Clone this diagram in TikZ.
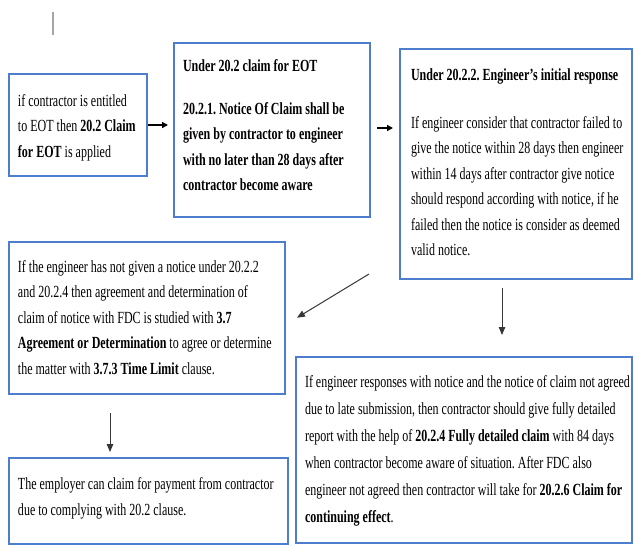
\documentclass[tikz,border=0pt]{standalone}
\usepackage{fontspec}
\setmainfont{Liberation Serif}[FakeStretch=0.706]
\usetikzlibrary{arrows.meta,calc}
\definecolor{boxblue}{RGB}{79,125,205}
\definecolor{arrgray}{RGB}{55,55,55}
\frenchspacing
\newcommand\boxline[1]{\mbox{#1}}
% #1 width, #2 height, #3 top pad, #4 left pad, #5 baselineskip, #6 lines
\newcommand\boxtext[6]{\begin{minipage}[c][#2][t]{#1}\fontsize{17pt}{#5}\selectfont\frenchspacing\parskip=0pt\raggedright\leftskip=#4\relax\vspace*{#3}\strut #6\end{minipage}}
\tikzset{
  box/.style={draw=boxblue, line width=1.8pt, inner sep=0pt, outer sep=0pt, rectangle, fill=white},
  blackarr/.style={line width=1.3pt, black, -{Triangle[length=6pt,width=6pt]}},
  grayarr/.style={line width=1pt, arrgray, -{Triangle[length=8pt,width=6.5pt]}},
}
\begin{document}
\begin{tikzpicture}[x=1pt,y=-1pt]
\fill[white] (0,0) rectangle (634,546);
\path[use as bounding box] (0,0) rectangle (634,546);

\draw[gray!70, line width=1.5pt] (53,12) -- (53,35);

\node[box] (A) at (78,125) {\boxtext{138pt}{102pt}{14.6pt}{9pt}{25.5pt}{%
\boxline{if contractor is entitled}\\
\boxline{to EOT then \textbf{20.2 Claim}}\\
\boxline{\textbf{for EOT} is applied}}};

\node[box] (B) at (272,130) {\boxtext{196pt}{174pt}{10.6pt}{9pt}{25.5pt}{%
\boxline{\textbf{Under 20.2 claim for EOT}}\\[17.5pt]
\boxline{\textbf{20.2.1. Notice Of Claim shall be}}\\
\boxline{\textbf{given by contractor to engineer}}\\
\boxline{\textbf{with no later than 28 days after}}\\
\boxline{\textbf{contractor become aware}}}};

\node[box] (C) at (516,164) {\boxtext{232pt}{230pt}{13.6pt}{11pt}{25.5pt}{%
\boxline{\textbf{Under 20.2.2. Engineer’s initial response}}\\[22.5pt]
\boxline{If engineer consider that contractor failed to}\\
\boxline{give the notice within 28 days then engineer}\\
\boxline{within 14 days after contractor give notice}\\
\boxline{should respond according with notice, if he}\\
\boxline{failed then the notice is consider as deemed}\\
\boxline{valid notice.}}};

\node[box] (D) at (147,318) {\boxtext{276pt}{152pt}{12.6pt}{9pt}{25.5pt}{%
\boxline{If the engineer has not given a notice under 20.2.2}\\
\boxline{and 20.2.4 then agreement and determination of}\\
\boxline{claim of notice with FDC is studied with \textbf{3.7}}\\
\boxline{\textbf{Agreement or Determination} to agree or determine}\\
\boxline{the matter with \textbf{3.7.3 Time Limit} clause.}}};

\node[box] (E) at (464,450) {\boxtext{336pt}{186pt}{11.6pt}{9pt}{27pt}{%
\boxline{If engineer responses with notice and the notice of claim not agreed}\\
\boxline{due to late submission, then contractor should give fully detailed}\\
\boxline{report with the help of \textbf{20.2.4 Fully detailed claim} with 84 days}\\
\boxline{when contractor become aware of situation. After FDC also}\\
\boxline{engineer not agreed then contractor will take for \textbf{20.2.6 Claim for}}\\
\boxline{\textbf{continuing effect}.}}};

\node[box] (F) at (148.5,501) {\boxtext{279pt}{86pt}{13.3pt}{9pt}{26pt}{%
\boxline{The employer can claim for payment from contractor}\\
\boxline{due to complying with 20.2 clause.}}};

\draw[blackarr, shorten <=1pt, shorten >=6pt] (A.east) -- (A.east -| B.west);
\draw[blackarr, shorten <=7pt, shorten >=7pt] ([yshift=2pt]B.east) -- ([yshift=2pt]B.east -| C.west);

\coordinate (dtail) at ($(C.south west)+(-31,-5)$);
\draw[grayarr, shorten >=14pt] (dtail) -- ([yshift=-7pt]D.east);

\coordinate (rtail) at ([xshift=-14pt,yshift=-9pt]C.south);
\draw[grayarr, shorten >=22pt] (rtail) -- (rtail |- E.north);

\coordinate (ltail) at ([xshift=-37pt,yshift=-19pt]D.south);
\draw[grayarr, shorten >=6pt] (ltail) -- (ltail |- F.north);
\end{tikzpicture}
\end{document}
